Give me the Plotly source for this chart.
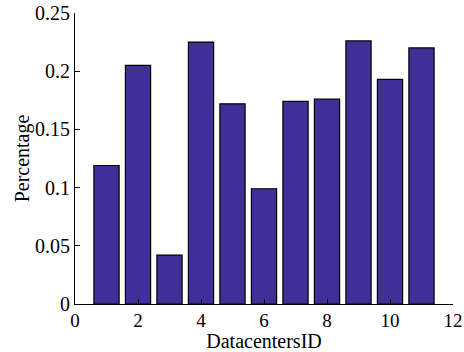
import plotly.graph_objects as go

datacenter_ids = [1, 2, 3, 4, 5, 6, 7, 8, 9, 10, 11]
percentage = [0.119, 0.205, 0.042, 0.225, 0.172, 0.099, 0.174, 0.176, 0.226, 0.193, 0.220]

x_ticks = [0, 2, 4, 6, 8, 10, 12]
y_ticks = [0, 0.05, 0.1, 0.15, 0.2, 0.25]
y_tick_text = ["0", "0.05", "0.1", "0.15", "0.2", "0.25"]

font_family = "Liberation Serif, Times New Roman, serif"

fig = go.Figure(
    go.Bar(
        x=datacenter_ids,
        y=percentage,
        width=0.8,
        marker=dict(color="rgb(62,48,150)", line=dict(color="black", width=1.2)),
    )
)

fig.update_layout(
    width=464,
    height=352,
    margin=dict(l=75, r=11, t=13, b=48),
    paper_bgcolor="white",
    plot_bgcolor="white",
    showlegend=False,
    font=dict(family=font_family, size=20, color="black"),
    xaxis=dict(
        range=[0, 12],
        tickvals=x_ticks,
        ticks="inside",
        ticklen=5,
        tickcolor="black",
        showline=True,
        linecolor="black",
        linewidth=1,
        showgrid=False,
        zeroline=False,
        automargin=False,
        ticklabeloverflow="allow",
        ticklabelstandoff=-1,
        title=dict(text="DatacentersID", standoff=0, font=dict(size=20)),
        tickfont=dict(size=19),
    ),
    yaxis=dict(
        range=[0, 0.25],
        tickvals=y_ticks,
        ticktext=y_tick_text,
        ticks="inside",
        ticklen=5,
        tickcolor="black",
        showline=True,
        linecolor="black",
        linewidth=1,
        showgrid=False,
        zeroline=False,
        automargin=False,
        ticklabeloverflow="allow",
        title=dict(text="Percentage", standoff=0, font=dict(size=20)),
        tickfont=dict(size=20),
    ),
)

fig.write_html("out.html")
